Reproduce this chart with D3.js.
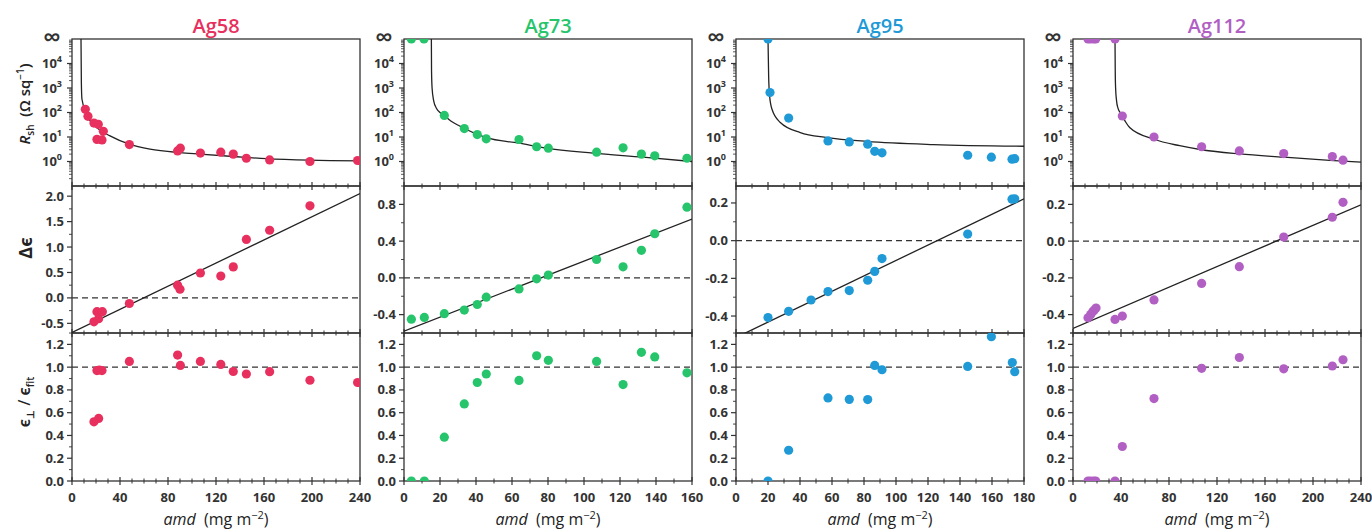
<!DOCTYPE html>
<html><head><meta charset="utf-8">
<script src="https://cdn.jsdelivr.net/npm/d3@7"></script>
<style>
body{margin:0;background:#fff;}
svg{display:block;}
text{font-family:"Open Sans","Noto Sans",sans-serif;}
</style>
</head><body>
<svg id="chart" width="1372" height="530"></svg>
<script>
// ---------------- data ----------------
const samples = ["Ag58", "Ag73", "Ag95", "Ag112"];
const colors = ["#e8305e", "#26c56c", "#1f9ad6", "#b25fc4"];
const xMax = [240, 160, 180, 240];
const xMajorStep = [40, 20, 20, 40];
const xMinorStep = [10, 10, 10, 10];
const dEpsDomain = [[-0.69, 2.2], [-0.6, 1.0], [-0.49, 0.29], [-0.5, 0.3]];
const dEpsMajor = [0.5, 0.4, 0.2, 0.2];
const dEpsMinor = [0.25, 0.2, 0.1, 0.1];
const rshDecades = [0, 1, 2, 3, 4];
const ratioTicks = [0, 0.2, 0.4, 0.6, 0.8, 1.0, 1.2];
const Inf = Infinity;

// sheet resistance (Ohm/sq) vs amd
const rsh58 = [[11.1,135],[13.3,70],[18.3,37],[21.9,33],[20.8,8],[25,7.6],[26.1,17],[47.8,4.9],[88,2.7],[90.3,3.5],[107,2.2],[124,2.4],[134.4,2.0],[145.3,1.36],[164.7,1.16],[198.3,1.0],[238,1.1]];
const rsh73 = [[4.1,Inf],[11.1,Inf],[22.4,76],[33.5,22],[40.7,12.6],[45.7,8.4],[63.9,7.9],[73.7,4.0],[80.2,3.5],[107,2.4],[121.7,3.6],[131.9,2.0],[139.3,1.7],[157.2,1.36]];
const rsh95 = [[20,Inf],[21.25,655],[32.9,59],[57.5,6.9],[70.8,6.3],[82.3,5.1],[86.7,2.6],[91.25,2.25],[144.8,1.8],[159.6,1.5],[172.5,1.24],[174.2,1.3]];
const rsh112 = [[12.5,Inf],[14.7,Inf],[17.2,Inf],[18.9,Inf],[35,Inf],[41.1,72],[67.5,10],[107.2,4.0],[138.6,2.7],[175.6,2.1],[216.1,1.6],[225,1.13]];

// fit curves for Rsh
const rshFit58 = [[7.5,Inf],[7.8,1660],[8.3,347],[12.2,85],[20.6,24.5],[31.7,11.1],[47.8,5.1],[65,3.2],[90,2.3],[106.7,2.0],[134.4,1.6],[162,1.3],[198,1.13],[240,1.06]];
const rshFit73 = [[15.2,Inf],[15.3,5000],[15.6,1000],[16.5,300],[18,150],[20,100],[22.4,74],[26,45],[30.9,28],[45.7,9.5],[63.9,5.6],[79,3.5],[105,2.2],[132.8,1.5],[160,1.0]];
const rshFit95 = [[20,Inf],[20.4,3090],[21,479],[22.5,135],[27.7,39],[40.2,15.1],[56.9,9.5],[81.9,6.6],[123.5,4.9],[180,4.2]];
const rshFit112 = [[35,Inf],[35.2,5000],[35.5,1000],[36.3,300],[37.5,150],[39.3,100],[41.1,72],[44,40],[47.2,24.5],[67.5,8.1],[88.9,4.4],[108.3,2.95],[138.9,2.04],[175,1.51],[213.9,1.12],[240,0.95]];

// delta epsilon
const deps58 = [[18.3,-0.47],[20.8,-0.27],[22.2,-0.41],[25.3,-0.27],[47.8,-0.11],[88,0.25],[90,0.17],[107,0.49],[124,0.43],[134.4,0.61],[145.3,1.15],[164.7,1.33],[198.3,1.81]];
const deps73 = [[4.1,-0.45],[11.3,-0.43],[22.4,-0.39],[33.5,-0.35],[40.7,-0.29],[45.7,-0.21],[63.9,-0.12],[73.7,-0.01],[80.2,0.03],[107,0.2],[121.7,0.12],[131.9,0.3],[139.3,0.48],[157.2,0.77]];
const deps95 = [[20,-0.408],[32.9,-0.375],[46.9,-0.315],[57.5,-0.27],[70.8,-0.265],[82.3,-0.21],[86.7,-0.163],[91.25,-0.095],[144.8,0.035],[172.5,0.22],[174.2,0.222]];
const deps112 = [[12.5,-0.417],[14.7,-0.40],[16.4,-0.384],[17.8,-0.375],[19.2,-0.364],[35,-0.426],[41.1,-0.408],[67.5,-0.32],[107.2,-0.23],[138.6,-0.139],[175.6,0.022],[216.1,0.13],[225,0.211]];

// linear fits of delta epsilon (end points)
const depsFit58 = [[0,-0.68],[240,2.05]];
const depsFit73 = [[0,-0.58],[160,0.64]];
const depsFit95 = [[0,-0.514],[180,0.222]];
const depsFit112 = [[0,-0.475],[240,0.198]];

// eps_perp / eps_fit
const ratio58 = [[18.3,0.52],[22.2,0.55],[20.8,0.97],[22.8,0.975],[25,0.97],[47.8,1.05],[88,1.106],[90.3,1.015],[107,1.05],[124,1.024],[134.4,0.962],[145.3,0.94],[164.7,0.96],[198.3,0.885],[238,0.865]];
const ratio73 = [[4.1,0],[11.3,0],[22.4,0.385],[33.5,0.677],[40.7,0.865],[45.7,0.94],[63.9,0.883],[73.7,1.10],[80.2,1.06],[107,1.05],[121.7,0.847],[131.9,1.13],[139.3,1.09],[157.2,0.95]];
const ratio95 = [[20,0],[32.9,0.27],[57.5,0.73],[70.8,0.717],[82.3,0.715],[86.7,1.015],[91.25,0.977],[144.8,1.006],[159.6,1.268],[172.7,1.04],[174.2,0.96]];
const ratio112 = [[12.5,0],[14.7,0],[17.2,0],[18.9,0],[35,0],[41.1,0.303],[67.5,0.724],[107.2,0.99],[138.6,1.085],[175.6,0.985],[216.1,1.01],[225,1.065]];

const rshData = [rsh58, rsh73, rsh95, rsh112];
const rshFits = [rshFit58, rshFit73, rshFit95, rshFit112];
const depsData = [deps58, deps73, deps95, deps112];
const depsFits = [depsFit58, depsFit73, depsFit95, depsFit112];
const ratioData = [ratio58, ratio73, ratio95, ratio112];

// ---------------- layout ----------------
const svg = d3.select("#chart");
const panelLeft = [72, 404, 736, 1073];
const panelW = 288;
const rows = [[39, 186], [186, 333], [333, 481]];
const axisColor = "#333";
const tickFont = 13;
const RSH_TOP = 1e5;

let clipId = 0;
function clip(x0, y0, w, h) {
  const id = "clip" + (clipId++);
  svg.append("clipPath").attr("id", id).append("rect")
    .attr("x", x0).attr("y", y0).attr("width", w).attr("height", h);
  return "url(#" + id + ")";
}
function range(a, b, step) {
  const out = [];
  const n = Math.round((b - a) / step);
  for (let i = 0; i <= n; i++) out.push(+(a + i * step).toFixed(6));
  return out;
}

samples.forEach((name, i) => {
  const L = panelLeft[i], R = L + panelW;
  const col = colors[i];
  const x = d3.scaleLinear().domain([0, xMax[i]]).range([L, R]);
  const yR = d3.scaleLog().domain([0.1, RSH_TOP]).range([rows[0][1], rows[0][0]]);
  const yD = d3.scaleLinear().domain(dEpsDomain[i]).range([rows[1][1], rows[1][0]]);
  const yQ = d3.scaleLinear().domain([0, 1.3]).range([rows[2][1], rows[2][0]]);
  const g = svg.append("g");

  // title
  g.append("text").attr("x", (L + R) / 2).attr("y", 33).attr("text-anchor", "middle")
    .attr("font-size", 20).attr("font-weight", 600).attr("fill", col).text(name);

  const xMajors = range(0, xMax[i], xMajorStep[i]);
  const xMinors = range(0, xMax[i], xMinorStep[i]).filter(v => xMajors.indexOf(v) < 0);

  // frames and x ticks on each row
  rows.forEach(([t, b]) => {
    g.append("rect").attr("x", L).attr("y", t).attr("width", panelW).attr("height", b - t)
      .attr("fill", "none").attr("stroke", axisColor).attr("stroke-width", 1.3);
    xMajors.forEach(v => g.append("line").attr("x1", x(v)).attr("x2", x(v)).attr("y1", b - 4).attr("y2", b + 4)
      .attr("stroke", axisColor).attr("stroke-width", 1.2));
    xMinors.forEach(v => g.append("line").attr("x1", x(v)).attr("x2", x(v)).attr("y1", b - 2.5).attr("y2", b + 2.5)
      .attr("stroke", axisColor).attr("stroke-width", 1));
  });
  // x tick labels
  xMajors.forEach(v => g.append("text").attr("x", x(v)).attr("y", 502).attr("text-anchor", "middle")
    .attr("font-size", tickFont).attr("font-weight", 700).attr("fill", "#333").text(v));
  // x axis title
  const xt = g.append("text").attr("x", (L + R) / 2).attr("y", 525).attr("text-anchor", "middle")
    .attr("font-size", 16).attr("fill", "#222");
  xt.append("tspan").attr("font-style", "italic").text("amd");
  xt.append("tspan").text("\u00a0 (mg m");
  xt.append("tspan").attr("dy", -6).attr("font-size", 11).text("\u22122");
  xt.append("tspan").attr("dy", 6).text(")");

  // y ticks helper
  function yTick(yy, len, w) {
    g.append("line").attr("x1", L - len).attr("x2", L).attr("y1", yy).attr("y2", yy)
      .attr("stroke", axisColor).attr("stroke-width", w);
  }

  // ----- Row 1: Rsh (log) -----
  rshDecades.forEach(d => {
    const yy = yR(Math.pow(10, d));
    yTick(yy, 5, 1.2);
    const t = g.append("text").attr("x", L - 10).attr("y", yy + 4.5).attr("text-anchor", "end")
      .attr("font-size", tickFont).attr("font-weight", 700).attr("fill", "#333");
    t.append("tspan").text("10");
    t.append("tspan").attr("dy", -6).attr("font-size", 9).text(d);
  });
  for (let d = -1; d <= 4; d++) for (let k = 2; k <= 9; k++) yTick(yR(k * Math.pow(10, d)), 3, 0.8);
  g.append("text").attr("x", L - 11).attr("y", rows[0][0] + 7).attr("text-anchor", "end")
    .attr("font-size", 25).attr("font-weight", 600).attr("fill", "#333").text("\u221e");

  const c1 = clip(L, rows[0][0], panelW, rows[0][1] - rows[0][0]);
  const rv = v => yR(v === Infinity ? RSH_TOP : v);
  g.append("path").datum(rshFits[i]).attr("clip-path", c1)
    .attr("d", d3.line().x(d => x(d[0])).y(d => rv(d[1])).curve(d3.curveMonotoneX))
    .attr("fill", "none").attr("stroke", "#222").attr("stroke-width", 1.3);
  g.append("g").attr("clip-path", c1).selectAll("circle").data(rshData[i]).join("circle")
    .attr("cx", d => x(d[0])).attr("cy", d => rv(d[1])).attr("r", 4.6).attr("fill", col);

  // ----- Row 2: delta epsilon -----
  const dm = d3.range(Math.ceil(dEpsDomain[i][0] / dEpsMajor[i] - 1e-9), Math.floor(dEpsDomain[i][1] / dEpsMajor[i] + 1e-9) + 1)
    .map(k => +(k * dEpsMajor[i]).toFixed(4));
  const dn = d3.range(Math.ceil(dEpsDomain[i][0] / dEpsMinor[i] - 1e-9), Math.floor(dEpsDomain[i][1] / dEpsMinor[i] + 1e-9) + 1)
    .map(k => +(k * dEpsMinor[i]).toFixed(4)).filter(v => dm.indexOf(v) < 0);
  dm.forEach(v => {
    yTick(yD(v), 5, 1.2);
    g.append("text").attr("x", L - 8).attr("y", yD(v) + 4.5).attr("text-anchor", "end")
      .attr("font-size", tickFont).attr("font-weight", 700).attr("fill", "#333")
      .text(v.toFixed(1));
  });
  dn.forEach(v => yTick(yD(v), 3, 0.9));
  const c2 = clip(L, rows[1][0], panelW, rows[1][1] - rows[1][0]);
  g.append("line").attr("x1", L).attr("x2", R).attr("y1", yD(0)).attr("y2", yD(0))
    .attr("stroke", "#333").attr("stroke-width", 1.2).attr("stroke-dasharray", "6,4");
  g.append("path").datum(depsFits[i]).attr("clip-path", c2)
    .attr("d", d3.line().x(d => x(d[0])).y(d => yD(d[1])))
    .attr("fill", "none").attr("stroke", "#222").attr("stroke-width", 1.3);
  g.append("g").attr("clip-path", c2).selectAll("circle").data(depsData[i]).join("circle")
    .attr("cx", d => x(d[0])).attr("cy", d => yD(d[1])).attr("r", 4.6).attr("fill", col);

  // ----- Row 3: ratio -----
  ratioTicks.forEach(v => {
    yTick(yQ(v), 5, 1.2);
    g.append("text").attr("x", L - 8).attr("y", yQ(v) + 4.5).attr("text-anchor", "end")
      .attr("font-size", tickFont).attr("font-weight", 700).attr("fill", "#333").text(v.toFixed(1));
  });
  range(0.1, 1.3, 0.2).forEach(v => yTick(yQ(v), 3, 0.9));
  const c3 = clip(L, rows[2][0], panelW, rows[2][1] - rows[2][0]);
  g.append("line").attr("x1", L).attr("x2", R).attr("y1", yQ(1)).attr("y2", yQ(1))
    .attr("stroke", "#333").attr("stroke-width", 1.2).attr("stroke-dasharray", "6,4");
  g.append("g").attr("clip-path", c3).selectAll("circle").data(ratioData[i]).join("circle")
    .attr("cx", d => x(d[0])).attr("cy", d => yQ(d[1])).attr("r", 4.6).attr("fill", col);
});

// y axis titles (left column)
const t1 = svg.append("text").attr("transform", "translate(30,104) rotate(-90)").attr("text-anchor", "middle")
  .attr("font-size", 15).attr("font-weight", 600).attr("fill", "#222");
t1.append("tspan").attr("font-style", "italic").text("R");
t1.append("tspan").attr("dy", 4).attr("font-size", 10).text("sh");
t1.append("tspan").attr("dy", -4).text("\u00a0 (\u03a9 sq");
t1.append("tspan").attr("dy", -6).attr("font-size", 10).text("\u22121");
t1.append("tspan").attr("dy", 6).text(")");

svg.append("text").attr("transform", "translate(32,248) rotate(-90)").attr("text-anchor", "middle")
  .attr("font-size", 18).attr("font-weight", 700).attr("fill", "#222").text("\u0394\u03f5");

const t3 = svg.append("text").attr("transform", "translate(30,402) rotate(-90)").attr("text-anchor", "middle")
  .attr("font-size", 16).attr("font-weight", 600).attr("fill", "#222");
t3.append("tspan").text("\u03f5");
t3.append("tspan").attr("dy", 4).attr("font-size", 10).text("\u22a5");
t3.append("tspan").attr("dy", -4).text(" / \u03f5");
t3.append("tspan").attr("dy", 4).attr("font-size", 10).text("fit");
</script>
</body></html>
